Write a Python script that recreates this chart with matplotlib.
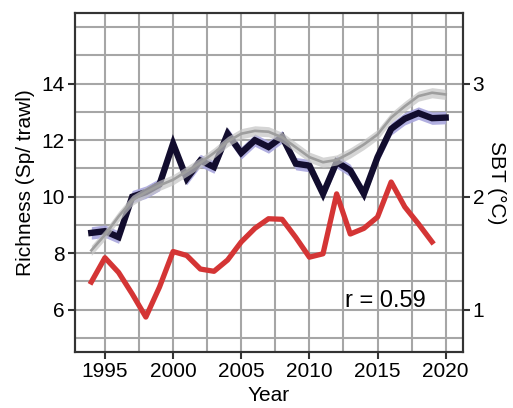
import matplotlib
matplotlib.use("Agg")
import matplotlib.pyplot as plt
from matplotlib.ticker import MultipleLocator
import numpy as np

plt.rcParams['font.family'] = ['Liberation Sans', 'DejaVu Sans']

# richness (left axis), 1994-2020
years = np.arange(1994, 2021)
richness = [8.72, 8.78, 8.57, 10.0, 10.16, 10.43, 11.88, 10.64, 11.28, 11.05,
            12.23, 11.55, 12.0, 11.76, 12.12, 11.17, 11.1, 10.1, 11.23, 10.93,
            10.1, 11.4, 12.4, 12.76, 12.96, 12.78, 12.8]
richness_se = 0.22

# smoothed trend of richness
smooth = [8.1, 8.65, 9.3, 9.87, 10.16, 10.4, 10.6, 10.9, 11.2, 11.55,
          11.95, 12.23, 12.33, 12.3, 12.1, 11.75, 11.4, 11.22, 11.3, 11.55,
          11.85, 12.2, 12.8, 13.2, 13.56, 13.68, 13.62]
smooth_se = 0.18

# bottom temperature (right axis), 1994-2019
sbt_years = np.arange(1994, 2020)
sbt = [1.245, 1.46, 1.33, 1.14, 0.935, 1.2, 1.515, 1.48, 1.36, 1.34,
       1.44, 1.60, 1.72, 1.805, 1.80, 1.64, 1.465, 1.495, 2.025, 1.67,
       1.72, 1.82, 2.13, 1.91, 1.76, 1.60]

fig = plt.figure(figsize=(5.13, 4.08), dpi=100)
ax = fig.add_axes([0.1456, 0.137, 0.7569, 0.831])

grid_c = '#a6a6a6'
spine_c = '#333333'

ax.set_xlim(1992.78, 2021.27)
ax.set_ylim(4.5, 16.5)
ax.xaxis.set_major_locator(MultipleLocator(5))
ax.xaxis.set_minor_locator(MultipleLocator(2.5))
ax.yaxis.set_minor_locator(MultipleLocator(1))
ax.set_yticks([6, 8, 10, 12, 14])
ax.grid(True, which='both', color=grid_c, linewidth=1.5)
ax.set_axisbelow(True)

ax.fill_between(years, np.array(richness) - richness_se, np.array(richness) + richness_se,
                color='#a9a6dd', alpha=0.9, linewidth=0, zorder=2)
ax.plot(years, richness, color='#120d2e', linewidth=4.6, zorder=3,
        solid_joinstyle='miter')
ax.fill_between(years, np.array(smooth) - smooth_se, np.array(smooth) + smooth_se,
                color='#c4c4c4', alpha=0.7, linewidth=0, zorder=4)
ax.plot(years, smooth, color='#9e9e9e', linewidth=1.9, zorder=5)

ax.set_xlabel('Year', fontsize=15, labelpad=4)
ax.set_ylabel('Richness (Sp/ trawl)', fontsize=15, labelpad=5)
ax.tick_params(axis='both', which='major', direction='out', length=5, width=1.5,
               color=spine_c, labelsize=15, pad=2)
ax.tick_params(axis='both', which='minor', length=0)

ax2 = ax.twinx()
ax2.set_ylim(0.625, 3.625)
ax2.set_yticks([1, 2, 3])
ax2.plot(sbt_years, sbt, color='#d43535', linewidth=3.8, zorder=6)
ax2.set_ylabel('SBT (°C)', fontsize=15, rotation=270, labelpad=16)
ax2.tick_params(axis='y', direction='out', length=5, width=1.5,
                color=spine_c, labelsize=15, pad=2)
ax2.grid(False)

for a in (ax, ax2):
    for s in a.spines.values():
        s.set_color(spine_c)
        s.set_linewidth(1.5)

ax.text(2012.6, 6.1, 'r = 0.59', fontsize=17, ha='left', va='baseline', zorder=7)

fig.savefig('out.png', dpi=100, facecolor='white')
